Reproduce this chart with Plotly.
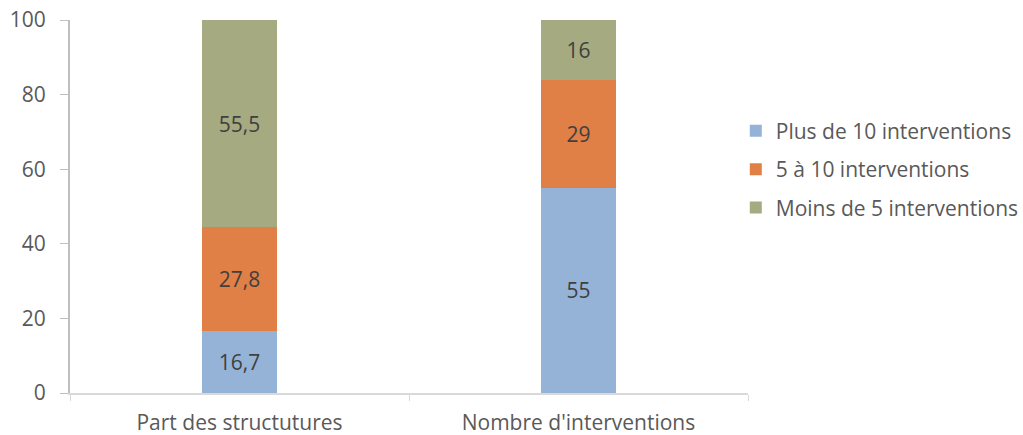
import plotly.graph_objects as go

categories = ["Part des structutures", "Nombre d'interventions"]
plus_10 = [16.7, 55]
de_5_a_10 = [27.8, 29]
moins_5 = [55.5, 16]
series_names = ["Plus de 10 interventions", "5 à 10 interventions", "Moins de 5 interventions"]
colors = ["#95B3D7", "#E07F46", "#A5AA80"]

FONT = "Open Sans"
FS = 21

def fmt(v):
    return (f"{v:g}").replace(".", ",")

fig = go.Figure()
for i, (name, vals) in enumerate(zip(series_names, [plus_10, de_5_a_10, moins_5])):
    fig.add_trace(go.Bar(
        x=categories, y=vals, name=name,
        marker=dict(color=colors[i], line=dict(width=0)),
        text=[fmt(v) for v in vals], textposition="inside",
        insidetextanchor="middle",
        textfont=dict(family=FONT, size=FS, color="#404040"),
        legendgroup=f"g{i}",
        width=0.22,
    ))

fig.update_layout(
    barmode="stack",
    width=1023, height=435,
    margin=dict(l=70, r=275, t=20, b=42, autoexpand=False),
    paper_bgcolor="white", plot_bgcolor="white",
    font=dict(family=FONT, size=FS, color="#595959"),
    showlegend=True,
    legend=dict(x=0.982, xanchor="left", y=0.6, yanchor="middle",
                traceorder="grouped", tracegroupgap=8,
                font=dict(family=FONT, size=FS, color="#595959"),
                itemwidth=30),
    uniformtext=dict(mode=False),
)
fig.update_xaxes(
    type="category", showline=True, linecolor="#D9D9D9", linewidth=2,
    ticks="outside", tickson="boundaries", ticklen=6, tickcolor="#D9D9D9",
    tickwidth=1, ticklabelstandoff=10, showgrid=False, zeroline=False,
    automargin=False,
    tickfont=dict(family=FONT, size=FS, color="#595959"),
)
fig.update_yaxes(
    range=[0, 100], dtick=20, showline=True, linecolor="#BFBFBF", linewidth=2,
    ticks="outside", ticklen=8, tickcolor="#BFBFBF", tickwidth=1,
    ticklabelstandoff=10, showgrid=False, zeroline=False,
    automargin=False,
    tickfont=dict(family=FONT, size=FS, color="#595959"),
)

fig.write_html("out.html")
